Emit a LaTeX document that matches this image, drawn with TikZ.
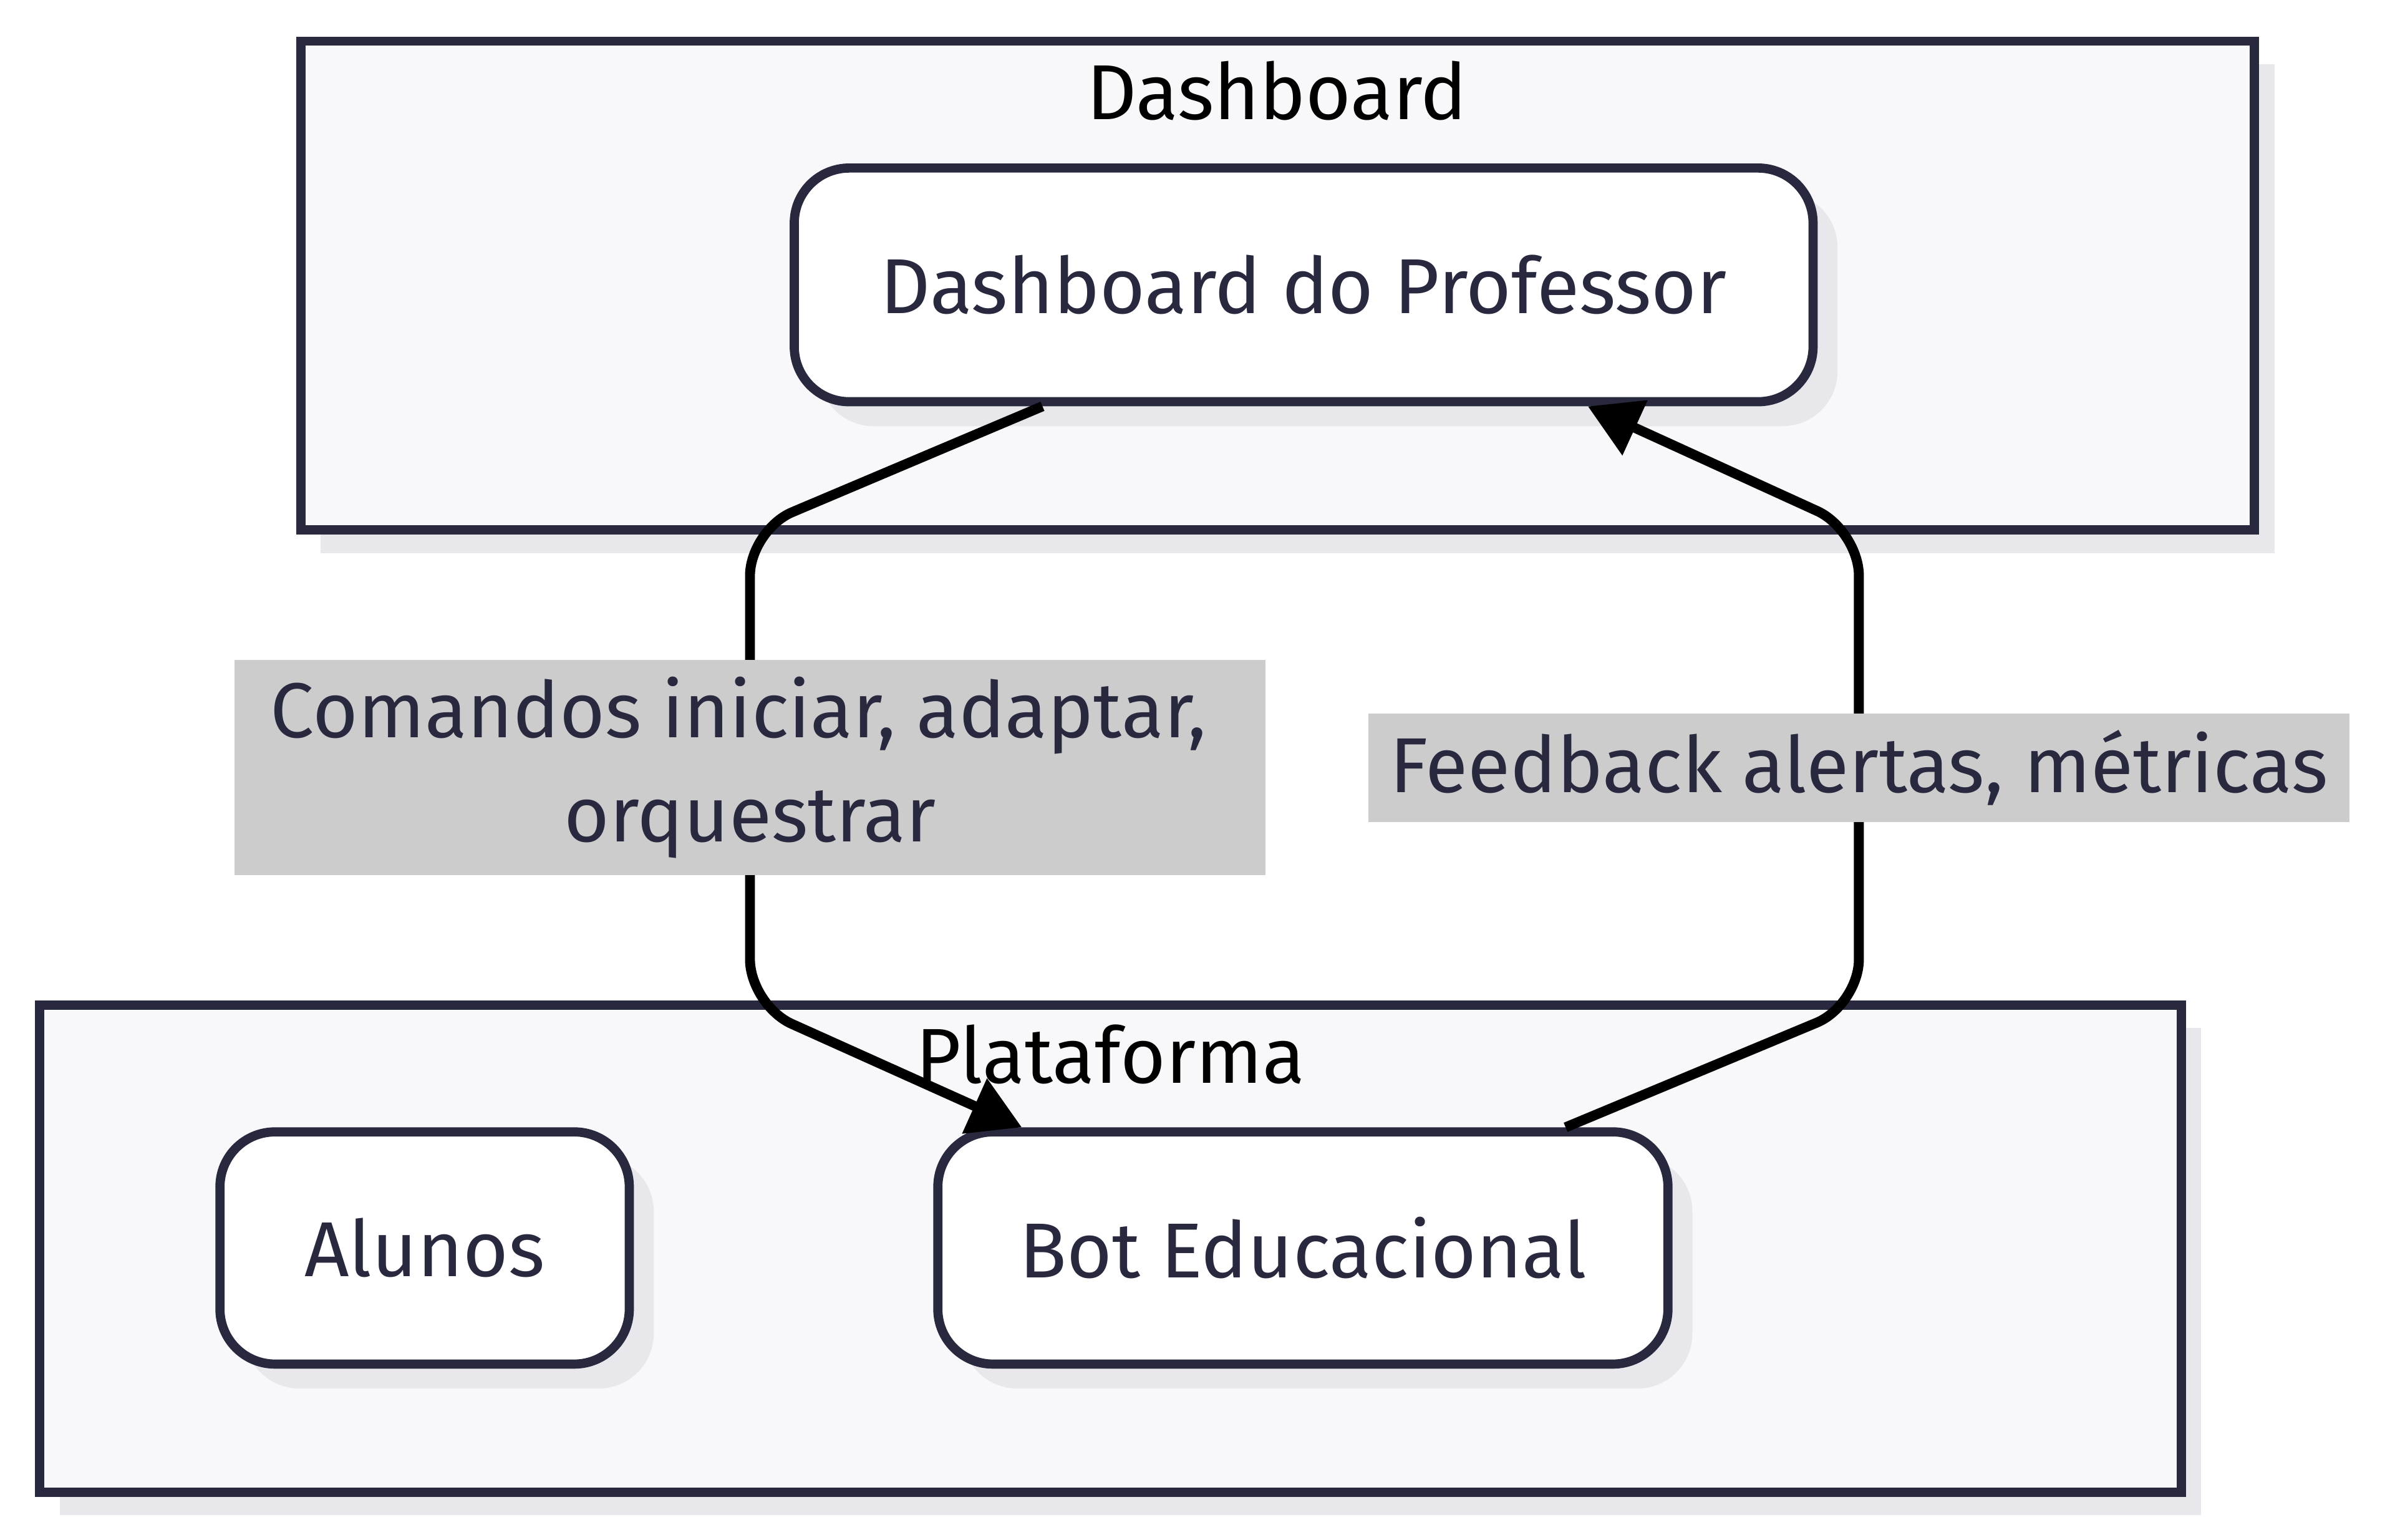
\documentclass[tikz,border=0pt]{standalone}
\usepackage{fontspec}
\setmainfont{Fira Sans}
\usepackage{xcolor}
\usetikzlibrary{arrows.meta,shadows}
\definecolor{clusterfill}{HTML}{F8F8FA}
\definecolor{navy}{HTML}{28283F}
\definecolor{shade}{HTML}{E8E8EC}
\definecolor{labelgray}{HTML}{CCCCCC}

\begin{document}
\begin{tikzpicture}[x=1pt,y=-1pt]
    \tikzstyle{every node}+=[inner sep=0pt]
    \tikzstyle{cluster}=[draw=navy, line width=6pt, fill=clusterfill, drop shadow={shadow xshift=13pt, shadow yshift=-15pt, fill=shade, opacity=1}]
    \tikzstyle{title}=[anchor=base, text=black, font=\fontsize{51}{68}\selectfont]
    \tikzstyle{box}=[draw=navy, line width=6pt, fill=white, rounded corners=36pt, text=navy, font=\fontsize{51}{68}\selectfont, minimum height=152pt, drop shadow={shadow xshift=16pt, shadow yshift=-16pt, fill=shade, opacity=1}]
    \tikzstyle{flow}=[draw=black, line width=6.5pt, rounded corners=30pt, -{Triangle[length=34pt,width=38pt]}]
    \tikzstyle{edgelabel}=[fill=labelgray, sharp corners, text=navy, font=\fontsize{51}{68}\selectfont, align=center]
    \useasboundingbox (0,0) rectangle (1568,1008);
    \draw [cluster] (197,27) rectangle (1476,347);
    \node [title] (dashtitle) at (836,78) {Dashboard};
    \draw [cluster] (26,658) rectangle (1428,977);
    \node [title] (plattitle) at (727,709) {Plataforma};
    \node [box, minimum width=667pt, minimum height=153pt] (dash) at (853.5,186.5) {Dashboard do Professor};
    \node [box, minimum width=268pt] (alunos) at (278,817) {Alunos};
    \node [box, minimum width=478pt] (bot) at (853,817) {Bot Educacional};
    \coordinate (c1) at (491,347);
    \coordinate (c2) at (491,658);
    \coordinate (c3) at (1217,658);
    \coordinate (c4) at (1217,347);
    \draw [flow] ([xshift=-171pt]dash.south) -- (c1) -- node [edgelabel, minimum width=675pt, minimum height=141pt] (cmdlabel) {Comandos iniciar, adaptar,\hspace*{15pt}\\orquestrar} (c2) -- ([xshift=-184pt]bot.north);
    \draw [flow] ([xshift=172pt]bot.north) -- (c3) -- node [edgelabel, minimum width=642pt, minimum height=71pt] (fblabel) {Feedback alertas, métricas} (c4) -- ([xshift=186pt]dash.south);
\end{tikzpicture}
\end{document}
